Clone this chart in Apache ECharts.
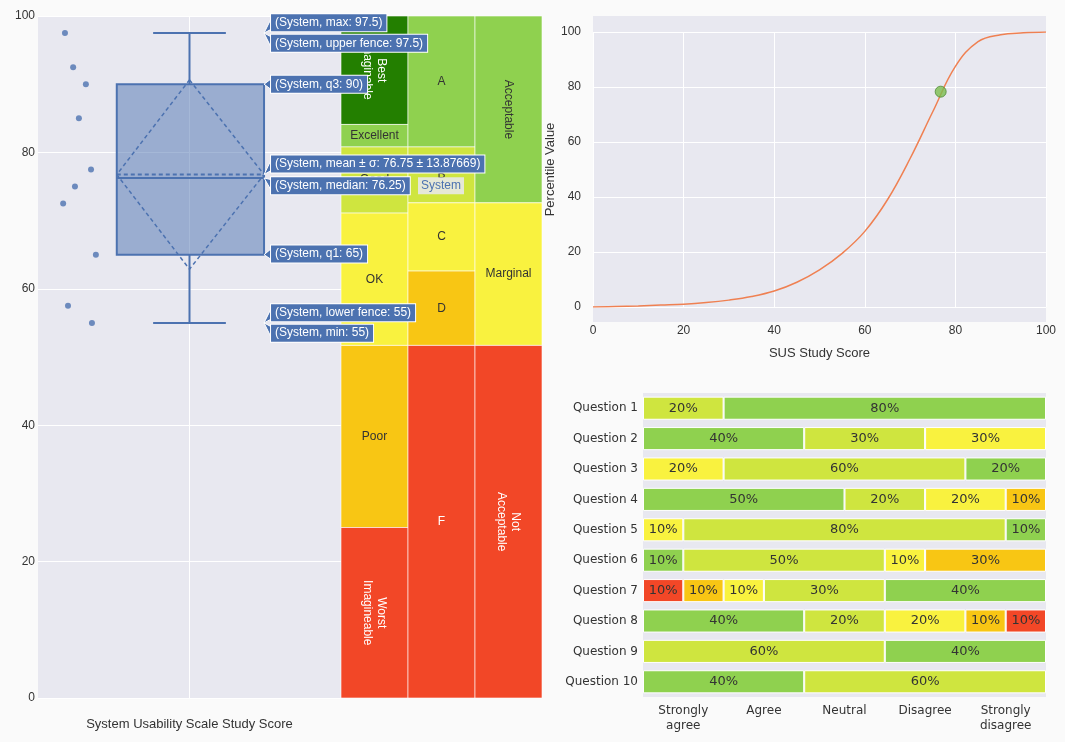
<!DOCTYPE html>
<html><head><meta charset="utf-8">
<script src="https://cdn.jsdelivr.net/npm/echarts@6/dist/echarts.min.js"></script>
<style>html,body{margin:0;padding:0;background:#fafafa}#c{width:1065px;height:742px}</style>
</head><body><div id="c"></div>
<script>
// ---- data ----
const scoreValues = [97.5, 92.5, 90, 85, 77.5, 75, 72.5, 65, 57.5, 55];
const scoreJitter = [0.089, 0.116, 0.158, 0.135, 0.175, 0.122, 0.083, 0.191, 0.099, 0.178];
const statNames = ['max', 'upper fence', 'q3', 'mean ± σ', 'median', 'q1', 'lower fence', 'min'];
const statValues = [97.5, 97.5, 90, 76.75, 76.25, 65, 55, 55];
const statLabelY = [99.0, 96.0, 90.0, 78.3, 75.1, 65.1, 56.5, 53.5];
const meanSd = [76.75, 13.87669];

const bandCols = [0, 0, 0, 0, 0, 0, 1, 1, 1, 1, 1, 2, 2, 2];
const bandLo = [84.1, 80.8, 71.1, 51.7, 25, 0, 80.8, 72.6, 62.6, 51.7, 0, 72.6, 51.7, 0];
const bandHi = [100, 84.1, 80.8, 71.1, 51.7, 25, 100, 80.8, 72.6, 62.6, 51.7, 100, 72.6, 51.7];
const bandNames = ['Best\nImaginable', 'Excellent', 'Good', 'OK', 'Poor', 'Worst\nImagineable', 'A', 'B', 'C', 'D', 'F', 'Acceptable', 'Marginal', 'Not\nAcceptable'];
const bandColors = ['#237f00', '#8fd14f', '#cfe53f', '#f9f23f', '#f8c614', '#f24727', '#8fd14f', '#cfe53f', '#f9f23f', '#f8c614', '#f24727', '#8fd14f', '#f9f23f', '#f24727'];
const bandRotate = [1, 0, 0, 0, 0, 1, 0, 0, 0, 0, 0, 1, 0, 1];
const bandTextColor = ['#fff', '#333', '#333', '#333', '#333', '#fff', '#333', '#333', '#333', '#333', '#fff', '#333', '#333', '#fff'];

const susScore = [0, 5, 10, 15, 20, 25, 30, 35, 40, 45, 50, 55, 60, 65, 70, 75, 80, 85, 90, 95, 100];
const percentile = [0, 0.2, 0.4, 0.7, 1, 1.6, 2.5, 3.8, 5.8, 9, 13.5, 19.5, 27.5, 39, 54, 71, 87.5, 96.5, 99, 99.7, 100];
const studyPoint = [76.75, 78.3];

const questions = ['Question 1', 'Question 2', 'Question 3', 'Question 4', 'Question 5', 'Question 6', 'Question 7', 'Question 8', 'Question 9', 'Question 10'];
const answerLabels = ['Strongly\nagree', 'Agree', 'Neutral', 'Disagree', 'Strongly\ndisagree'];
const questionValues = [[20, 80], [40, 30, 30], [20, 60, 20], [50, 20, 20, 10], [10, 80, 10], [10, 50, 10, 30], [10, 10, 10, 30, 40], [40, 20, 20, 10, 10], [60, 40], [40, 60]];
const questionColors = [['yg', 'g'], ['g', 'yg', 'y'], ['y', 'yg', 'g'], ['g', 'yg', 'y', 'o'], ['y', 'yg', 'g'], ['g', 'yg', 'y', 'o'], ['r', 'o', 'y', 'yg', 'g'], ['g', 'yg', 'y', 'o', 'r'], ['yg', 'g'], ['g', 'yg']];
const palette = { g: '#8fd14f', yg: '#cfe53f', y: '#f9f23f', o: '#f8c614', r: '#f24727' };

// ---- chart ----
const chart = echarts.init(document.getElementById('c'));
const BG = '#e8e8f0';
const F1 = 'Liberation Sans, Arial, sans-serif';
const F2 = 'DejaVu Sans, Verdana, sans-serif';
const boxBlue = '#4c72b0';

const barSeries = [];
for (let k = 0; k < 5; k++) {
  barSeries.push({
    type: 'bar', stack: 'q', xAxisIndex: 4, yAxisIndex: 3, barCategoryGap: '24%',
    data: questions.map((q, i) => questionValues[i][k] != null ? {
      value: questionValues[i][k], itemStyle: { color: palette[questionColors[i][k]] }
    } : '-'),
    itemStyle: { borderColor: '#fff', borderWidth: 1 },
    label: { show: true, formatter: p => p.value + '%', color: '#333', fontFamily: F2, fontSize: 13 },
    silent: true
  });
}

chart.setOption({
  backgroundColor: '#fafafa',
  animation: false,
  grid: [
    { left: 38, right: 1065 - 341, top: 16, bottom: 44, show: true, backgroundColor: BG, borderWidth: 0 },
    { left: 341, right: 1065 - 542, top: 16, bottom: 44, show: false },
    { left: 593, right: 19, top: 32, bottom: 742 - 307, show: false },
    { left: 643, right: 19, top: 393, bottom: 45, show: true, backgroundColor: BG, borderWidth: 0 },
    { left: 593, right: 19, top: 16, bottom: 742 - 322, show: true, backgroundColor: BG, borderWidth: 0, z: -1 }
  ],
  xAxis: [
    { gridIndex: 0, type: 'value', min: 0, max: 1, axisLabel: { show: false }, axisTick: { show: false }, axisLine: { show: false }, splitLine: { show: false },
      name: 'System Usability Scale Study Score', nameLocation: 'middle', nameGap: 20, nameTextStyle: { color: '#333', fontFamily: F1, fontSize: 13 } },
    { gridIndex: 1, type: 'value', min: 0, max: 3, show: false },
    { gridIndex: 2, type: 'value', min: 0, max: 100, interval: 20, axisLine: { show: false }, axisTick: { show: false },
      axisLabel: { color: '#333', fontFamily: F1, fontSize: 12, margin: 18 }, splitLine: { lineStyle: { color: '#fff', width: 1 } },
      name: 'SUS Study Score', nameLocation: 'middle', nameGap: 40, nameTextStyle: { color: '#333', fontFamily: F1, fontSize: 13 } },
    { gridIndex: 4, type: 'value', min: 0, max: 1, show: false },
    { gridIndex: 3, type: 'value', min: 0, max: 100, show: false },
    { gridIndex: 3, type: 'category', data: answerLabels, position: 'bottom', axisLine: { show: false }, axisTick: { show: false },
      axisLabel: { color: '#333', fontFamily: F2, fontSize: 12, margin: 6, lineHeight: 15 } }
  ],
  yAxis: [
    { gridIndex: 0, type: 'value', min: 0, max: 100, interval: 20, axisLine: { show: false }, axisTick: { show: false },
      axisLabel: { color: '#333', fontFamily: F1, fontSize: 12, margin: 3 }, splitLine: { lineStyle: { color: '#fff' } } },
    { gridIndex: 1, type: 'value', min: 0, max: 100, show: false },
    { gridIndex: 2, type: 'value', min: 0, max: 100, interval: 20, axisLine: { show: false }, axisTick: { show: false },
      axisLabel: { color: '#333', fontFamily: F1, fontSize: 12, margin: 12 }, splitLine: { lineStyle: { color: '#fff' } },
      name: 'Percentile Value', nameLocation: 'middle', nameGap: 32, nameTextStyle: { color: '#333', fontFamily: F1, fontSize: 13 } },
    { gridIndex: 3, type: 'category', data: questions, inverse: true, axisLine: { show: false }, axisTick: { show: false },
      axisLabel: { color: '#333', fontFamily: F2, fontSize: 12, margin: 5 } },
    { gridIndex: 4, type: 'value', min: 0, max: 1, show: false }
  ],
  series: [
    // central vertical gridline of box plot
    { type: 'custom', xAxisIndex: 0, yAxisIndex: 0, data: [[0.5]], silent: true, z: 1,
      renderItem: (p, api) => {
        const a = api.coord([0.5, 0]), b = api.coord([0.5, 100]);
        return { type: 'line', shape: { x1: a[0], y1: a[1], x2: b[0], y2: b[1] }, style: { stroke: '#fff', lineWidth: 1 } };
      } },
    { type: 'scatter', xAxisIndex: 0, yAxisIndex: 0, data: scoreValues.map((v, i) => [scoreJitter[i], v]),
      symbolSize: 6, itemStyle: { color: boxBlue }, silent: true },
    // box plot
    { type: 'custom', xAxisIndex: 0, yAxisIndex: 0, data: [[0.5]], silent: true, z: 3,
      renderItem: (p, api) => {
        const c = (x, y) => api.coord([x, y]);
        const mn = statValues[7], q1 = statValues[5], md = statValues[4], q3 = statValues[2], mx = statValues[0];
        const [m, sd] = meanSd;
        const L = 0.26, R = 0.746, cl = 0.38, cr = 0.62;
        const ln = (x1, y1, x2, y2, dash) => {
          const a = c(x1, y1), b = c(x2, y2);
          return { type: 'line', shape: { x1: a[0], y1: a[1], x2: b[0], y2: b[1] }, style: { stroke: boxBlue, lineWidth: 2, lineDash: dash ? [4, 3] : null } };
        };
        const tl = c(L, q3), br = c(R, q1);
        return { type: 'group', children: [
          ln(0.5, q3, 0.5, mx), ln(0.5, q1, 0.5, mn), ln(cl, mx, cr, mx), ln(cl, mn, cr, mn),
          { type: 'rect', shape: { x: tl[0], y: tl[1], width: br[0] - tl[0], height: br[1] - tl[1] },
            style: { fill: 'rgba(76,114,176,0.5)', stroke: boxBlue, lineWidth: 2 } },
          ln(L, md, R, md),
          ln(L, m, R, m, true),
          { type: 'polygon', shape: { points: [c(0.5, m + sd), c(R, m), c(0.5, m - sd), c(L, m)] },
            style: { fill: 'none', stroke: boxBlue, lineWidth: 1.5, lineDash: [4, 3] } }
        ] };
      } },
    // grade bands
    { type: 'custom', xAxisIndex: 1, yAxisIndex: 1, silent: true, z: 2,
      data: bandNames.map((n, i) => [bandCols[i], bandLo[i], bandHi[i], i]),
      renderItem: (p, api) => {
        const i = api.value(3);
        const col = api.value(0);
        const a = api.coord([col, bandHi[i]]), b = api.coord([col + 1, bandLo[i]]);
        const cx = (a[0] + b[0]) / 2, cy = (a[1] + b[1]) / 2;
        return { type: 'group', children: [
          { type: 'rect', shape: { x: a[0], y: a[1], width: b[0] - a[0], height: b[1] - a[1] },
            style: { fill: bandColors[i], stroke: 'rgba(255,255,255,0.6)', lineWidth: 1 } },
          { type: 'text', x: cx, y: cy, rotation: bandRotate[i] ? -Math.PI / 2 : 0,
            style: { text: bandNames[i], fill: bandTextColor[i], font: '12px ' + F1, align: 'center', verticalAlign: 'middle', lineHeight: 14 } }
        ] };
      } },
    // hover-style labels
    { type: 'custom', xAxisIndex: 0, yAxisIndex: 0, silent: true, z: 10,
      data: statNames.map((n, i) => [statValues[i], statLabelY[i], i]),
      renderItem: (p, api) => {
        const i = api.value(2);
        const tip = api.coord([0.746, statValues[i]]);
        const ly = api.coord([0.746, statLabelY[i]])[1];
        const lx = tip[0] + 7;
        const txt = '(System, ' + statNames[i] + ': ' + (i === 3 ? '76.75 ± 13.87669' : statValues[i]) + ')';
        const children = [
          { type: 'polygon', shape: { points: [[tip[0], tip[1]], [lx + 1, ly - 6], [lx + 1, ly + 6]] }, style: { fill: boxBlue, stroke: '#fff', lineWidth: 1 } },
          { type: 'text', x: lx, y: ly, style: { text: txt, fill: '#fff', font: '12px ' + F1, verticalAlign: 'middle',
            backgroundColor: boxBlue, borderColor: '#fff', borderWidth: 1, padding: [3, 4, 2, 4] } }
        ];
        if (i === 4) children.push({ type: 'text', x: 418, y: ly, style: { text: 'System', fill: boxBlue, font: '12px ' + F1, verticalAlign: 'middle', backgroundColor: 'rgba(232,232,232,0.9)', padding: [3, 3, 2, 3] } });
        return { type: 'group', children };
      } },
    // percentile curve
    { type: 'line', xAxisIndex: 2, yAxisIndex: 2, data: susScore.map((x, i) => [x, percentile[i]]), smooth: 0.4,
      showSymbol: false, lineStyle: { color: '#ef8052', width: 1.5 }, silent: true },
    { type: 'scatter', xAxisIndex: 2, yAxisIndex: 2, data: [studyPoint], symbolSize: 11,
      itemStyle: { color: '#7bbd4f', borderColor: '#4e8a36', borderWidth: 1 }, silent: true, z: 5 },
    ...barSeries
  ]
});
</script></body></html>
